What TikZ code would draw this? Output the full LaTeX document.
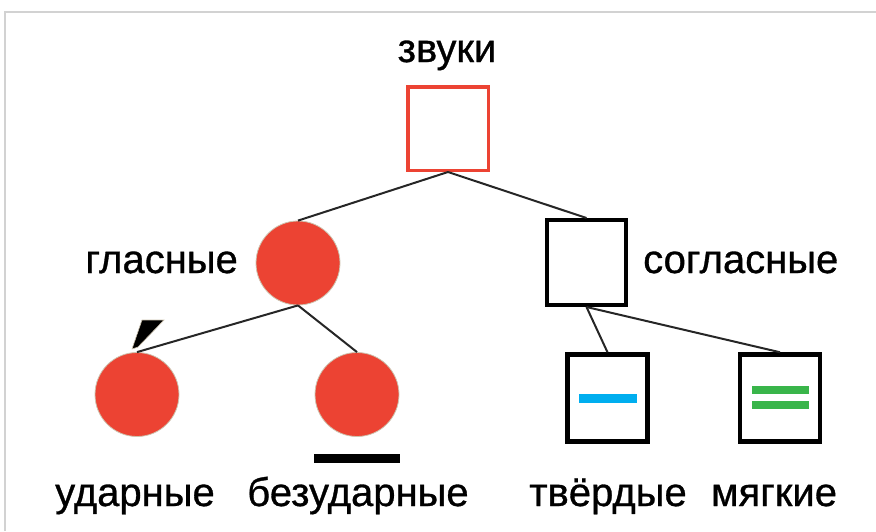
\documentclass[tikz,border=0pt]{standalone}
\usepackage{fontspec}
\setmainfont[FakeBold=0.8]{Liberation Sans}
\usetikzlibrary{calc}
\definecolor{vowelred}{RGB}{236,67,51}
\definecolor{hardblue}{RGB}{0,174,239}
\definecolor{softgreen}{RGB}{57,181,74}
\definecolor{rim}{RGB}{205,195,175}
\tikzset{
    soundbox/.style={draw,line width=4.5pt,minimum width=80pt,minimum height=87pt,inner sep=0pt},
    vowel/.style={circle,fill=vowelred,draw=rim,line width=0.8pt,minimum size=84pt,inner sep=0pt},
    branch/.style={line width=2pt,black!85},
    word/.style={font=\fontsize{40}{40}\selectfont,anchor=base,inner sep=0pt},
}

\begin{document}
\begin{tikzpicture}[x=1pt,y=-1pt]
    \useasboundingbox (0,0) rectangle (876,531);
    \draw[gray!35,line width=1.2pt] (5,531)--(5,12)--(876,12);
    % nodes
    \node[soundbox,draw=vowelred,line width=3.5pt,minimum width=80.5pt,minimum height=83.5pt] (sounds) at (448,128.5) {};
    \node[vowel] (vow) at (298,263) {};
    \node[soundbox,line width=4pt,minimum width=79pt,minimum height=85pt] (cons) at (586.5,262.5) {};
    \node[vowel] (stress) at (137,394.5) {};
    \node[vowel] (unstr) at (357,394.5) {};
    \node[soundbox] (hard) at (607.5,398) {};
    \node[soundbox] (soft) at (780,398) {};
    % branches
    \draw[branch] (sounds.south)--(vow.north);
    \draw[branch] (sounds.south)--(cons.north);
    \draw[branch] (vow.south)--(stress.north);
    \draw[branch] (vow.south)--(unstr.north);
    \draw[branch] (cons.south)--(hard.north);
    \draw[branch] (cons.south)--(soft.north);
    % marks
    \fill[black,draw=rim,line width=0.6pt] (132,349)--(142,320)--(164,320)--(138,347)--cycle;
    \fill[black] ($(unstr.center)+(-43,59.5)$) rectangle ($(unstr.center)+(43,68.5)$);
    \fill[hardblue] ($(hard.center)+(-29,-4.5)$) rectangle ($(hard.center)+(29,4.5)$);
    \foreach \dy in {-12,3}{
        \fill[softgreen] ($(soft.center)+(-28.5,\dy)$) rectangle ($(soft.center)+(28.5,\dy+8)$);
    }
    % labels
    \node[word] (lsounds) at (447,62) {звуки};
    \node[word,anchor=base east] (lvow) at (238,273) {гласные};
    \node[word,anchor=base west] (lcons) at (643,273) {согласные};
    \node[word] (lstress) at (135,506) {ударные};
    \node[word] (lunstr) at (358,506) {безударные};
    \node[word] (lhard) at (608,506) {твёрдые};
    \node[word] (lsoft) at (774,506) {мягкие};
\end{tikzpicture}
\end{document}
